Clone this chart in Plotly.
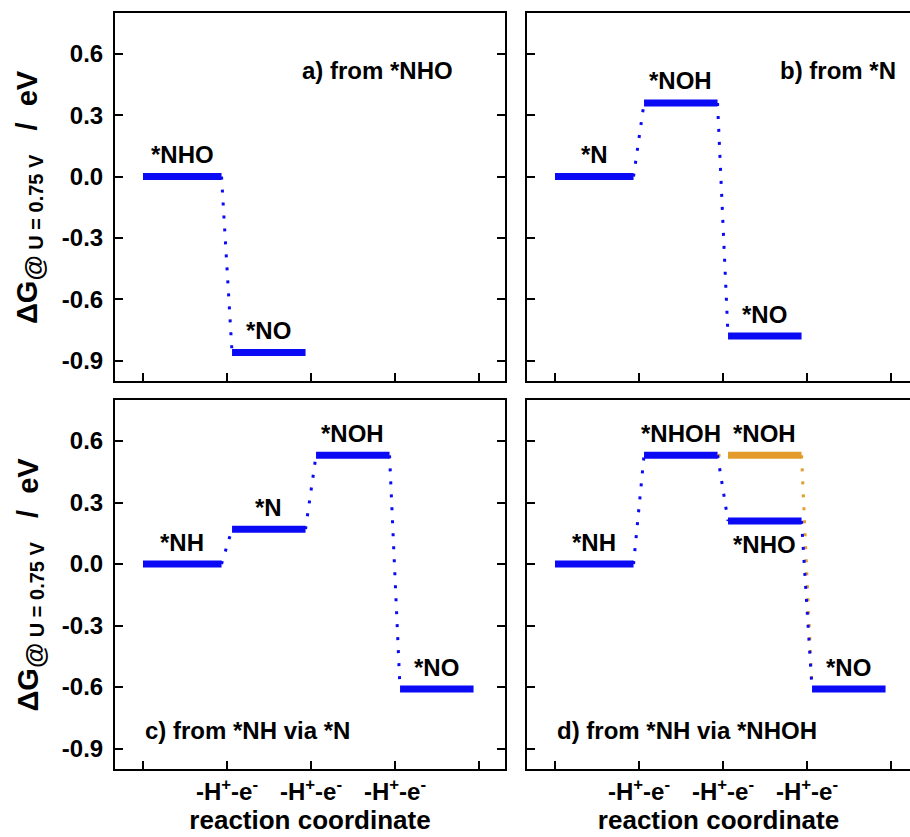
import plotly.graph_objects as go

# ---------------- data ----------------
# panel a) from *NHO
a_labels = ["*NHO", "*NO"]
a_values = [0.0, -0.86]
# panel b) from *N
b_labels = ["*N", "*NOH", "*NO"]
b_values = [0.0, 0.36, -0.78]
# panel c) from *NH via *N
c_labels = ["*NH", "*N", "*NOH", "*NO"]
c_values = [0.0, 0.17, 0.53, -0.61]
# panel d) from *NH via *NHOH  (blue path)
d_labels = ["*NH", "*NHOH", "*NHO", "*NO"]
d_values = [0.0, 0.53, 0.21, -0.61]
# panel d) alternative (orange) path: *NHOH -> *NOH -> *NO
d_alt_steps = [1, 2, 3]
d_alt_labels = ["*NHOH", "*NOH", "*NO"]
d_alt_values = [0.53, 0.53, -0.61]

panel_titles = ["a) from *NHO", "b) from *N", "c) from *NH via *N", "d) from *NH via *NHOH"]

y_tickvals = [0.6, 0.3, 0.0, -0.3, -0.6, -0.9]
y_ticktext = ["0.6", "0.3", "0.0", "-0.3", "-0.6", "-0.9"]
x_tickvals = [0, 1, 2, 3, 4]
x_ticktext = ["", "-H<sup>+</sup>-e<sup>-</sup>", "-H<sup>+</sup>-e<sup>-</sup>",
              "-H<sup>+</sup>-e<sup>-</sup>", ""]

BLUE = "#0A0AF5"
ORANGE = "#E39B2B"
FONT = "Liberation Sans, Arial, Helvetica, sans-serif"
FS = 24

W, H = 910, 837
fig = go.Figure()

# panel geometry (pixels)
px_left = {"a": (115, 505), "b": (527, 910), "c": (115, 505), "d": (527, 910)}
px_vert = {"a": (13, 381), "b": (13, 381), "c": (400, 769), "d": (400, 769)}
axes = {"a": ("x", "y"), "b": ("x2", "y2"), "c": ("x3", "y3"), "d": ("x4", "y4")}
PX_PER_STEP = 84.0
X0_OFFSET = 28.0


def bar_span(step):
    start = step + (0.0 if step == 0 else 0.06)
    end = step + 0.935
    return start, end


def add_path(key, steps, values, color, bars=True, skip_bars=()):
    xa, ya = axes[key]
    spans = [bar_span(s) for s in steps]
    for i, (s, v) in enumerate(zip(steps, values)):
        if bars and s not in skip_bars:
            fig.add_trace(go.Scatter(x=[spans[i][0], spans[i][1]], y=[v, v], mode="lines",
                                     line=dict(color=color, width=7), xaxis=xa, yaxis=ya,
                                     showlegend=False, hoverinfo="skip"))
    for i in range(len(steps) - 1):
        fig.add_trace(go.Scatter(x=[spans[i][1], spans[i + 1][0]], y=[values[i], values[i + 1]],
                                 mode="lines", line=dict(color=color, width=3, dash="3px,10px"),
                                 xaxis=xa, yaxis=ya, showlegend=False, hoverinfo="skip"))


def add_labels(key, steps, labels, values, below=()):
    xa, ya = axes[key]
    for s, lab, v in zip(steps, labels, values):
        st, en = bar_span(s)
        fig.add_annotation(x=(st + en) / 2, y=v, xref=xa, yref=ya, text=lab, showarrow=False,
                           yshift=(-24 if lab in below else 22),
                           font=dict(size=FS, color="black", family=FONT, weight="bold"))


add_path("a", list(range(len(a_values))), a_values, BLUE)
add_labels("a", list(range(len(a_values))), a_labels, a_values)
add_path("b", list(range(len(b_values))), b_values, BLUE)
add_labels("b", list(range(len(b_values))), b_labels, b_values)
add_path("c", list(range(len(c_values))), c_values, BLUE)
add_labels("c", list(range(len(c_values))), c_labels, c_values)
# orange path first, then blue on top
add_path("d", d_alt_steps, d_alt_values, ORANGE, skip_bars=(1, 3))
add_path("d", list(range(len(d_values))), d_values, BLUE)
add_labels("d", list(range(len(d_values))), d_labels, d_values, below=("*NHO",))
add_labels("d", [2], ["*NOH"], [d_alt_values[1]])

# axes
layout = {}
for idx, key in enumerate(["a", "b", "c", "d"]):
    n = "" if idx == 0 else str(idx + 1)
    L, R = px_left[key]
    T, B = px_vert[key]
    xr = [-X0_OFFSET / PX_PER_STEP, (R - L - X0_OFFSET) / PX_PER_STEP]
    bottom = key in ("c", "d")
    left = key in ("a", "c")
    layout["xaxis" + n] = dict(
        domain=[L / W, R / W], range=xr, anchor="y" + n,
        showline=True, linecolor="black", linewidth=2, mirror=True,
        ticks="inside", ticklen=8, tickwidth=2, tickcolor="black",
        tickvals=x_tickvals, ticktext=x_ticktext, showticklabels=bottom,
        showgrid=False, zeroline=False,
        tickfont=dict(size=FS, color="black", family=FONT, weight="bold"),
        title=dict(text="reaction coordinate" if bottom else "", standoff=7,
                   font=dict(size=26, color="black", family=FONT, weight="bold")),
    )
    layout["yaxis" + n] = dict(
        domain=[1 - B / H, 1 - T / H], range=[-1.0, 0.8], anchor="x" + n,
        showline=True, linecolor="black", linewidth=2,
        mirror=("allticks" if left else False),
        ticks="inside", ticklen=8, tickwidth=2, tickcolor="black",
        tickvals=y_tickvals, ticktext=y_ticktext, showticklabels=left,
        ticklabelstandoff=5,
        showgrid=False, zeroline=False,
        tickfont=dict(size=FS, color="black", family=FONT, weight="bold"),
    )

fig.update_layout(**layout)

# panel titles
fig.add_annotation(x=3.71, y=0.52, xref="x", yref="y", text=panel_titles[0], showarrow=False,
                   xanchor="right", font=dict(size=FS, color="black", family=FONT, weight="bold"))
fig.add_annotation(x=4.08, y=0.52, xref="x2", yref="y2", text=panel_titles[1], showarrow=False,
                   xanchor="right", font=dict(size=FS, color="black", family=FONT, weight="bold"))
fig.add_annotation(x=0.0, y=-0.81, xref="x3", yref="y3", text=panel_titles[2], showarrow=False,
                   xanchor="left", font=dict(size=FS, color="black", family=FONT, weight="bold"))
fig.add_annotation(x=0.0, y=-0.81, xref="x4", yref="y4", text=panel_titles[3], showarrow=False,
                   xanchor="left", font=dict(size=FS, color="black", family=FONT, weight="bold"))

# y-axis titles
ytitle = ("\u0394G<sub><span style='font-size:26px'>@</span>"
          "<span style='font-size:20px'> U = 0.75 V</span></sub>"
          "&nbsp;&nbsp;&nbsp;/&nbsp;&nbsp;eV")
for key in ("a", "c"):
    T, B = px_vert[key]
    fig.add_annotation(x=30 / W, y=1 - (T + B) / 2 / H, xref="paper", yref="paper",
                       text=ytitle, showarrow=False, textangle=-90,
                       xanchor="center", yanchor="middle",
                       font=dict(size=29, color="black", family=FONT, weight="bold"))

fig.update_layout(width=W, height=H, margin=dict(l=0, r=0, t=0, b=0),
                  plot_bgcolor="white", paper_bgcolor="white")

fig.write_html("out.html", config={"displayModeBar": False},
               post_script="document.body.style.margin='0';"
                           "document.documentElement.style.margin='0';"
                           "document.body.style.overflow='hidden';")
